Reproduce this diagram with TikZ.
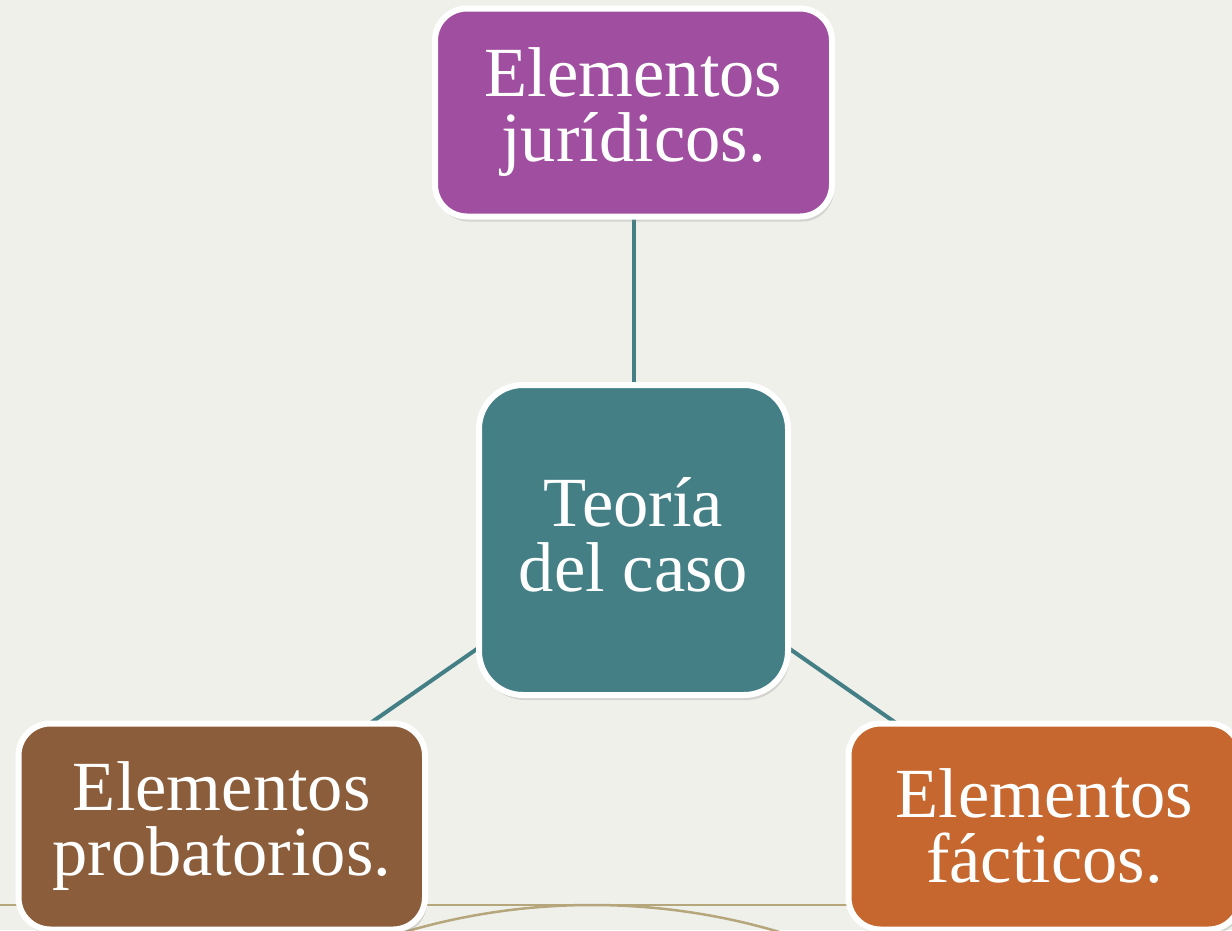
\documentclass[tikz,border=0pt]{standalone}
\usepackage{fontspec}
\setmainfont{Liberation Serif}
\usetikzlibrary{shadows}
\definecolor{bgc}{HTML}{F0F0EB}
\definecolor{tealc}{HTML}{437F85}
\definecolor{purplec}{HTML}{A04FA0}
\definecolor{brownc}{HTML}{8B5D3B}
\definecolor{orangec}{HTML}{C5672E}
\definecolor{tanc}{HTML}{B5A67C}
\pgfdeclarelayer{deco}
\pgfdeclarelayer{edges}
\pgfsetlayers{deco,edges,main}
\begin{document}
\begin{tikzpicture}[x=1pt,y=-1pt,
  box/.style={draw=white, line width=6pt, text=white, align=center,
    font=\fontsize{70.5}{65}\selectfont, inner sep=0pt,
    drop shadow={opacity=0.25, shadow xshift=2pt, shadow yshift=-5pt}},
  link/.style={draw=tealc, line width=4pt},
  decoline/.style={draw=tanc, line width=2.5pt}]
\useasboundingbox (0,0) rectangle (1232,930);
\clip (0,0) rectangle (1232,930);
\begin{pgfonlayer}{deco}
  \fill[bgc] (0,0) rectangle (1232,930);
  \draw[decoline] (0,905) -- (1232,905);
  \draw[decoline] (592,1565) circle (660);
\end{pgfonlayer}
\node[box, fill=purplec, minimum width=397pt, minimum height=208pt, rounded corners=32pt] (top) at (633.5,112.5) {Elementos\\jurídicos.};
\node[box, fill=tealc, minimum width=309pt, minimum height=310pt, rounded corners=44pt] (center) at (633.5,540) {Teoría\\del caso\vphantom{,}};
\node[box, fill=brownc, minimum width=406.5pt, minimum height=206pt, rounded corners=32pt] (left) at (221.75,826.5) {Elementos\\probatorios.};
\node[box, fill=orangec, minimum width=392pt, minimum height=206pt, rounded corners=32pt] (right) at (1044.5,826.5) {Elementos\\fácticos.};
\begin{pgfonlayer}{edges}
  \draw[link] (center.center) -- (top.center);
  \draw[link] (center.center) -- (left.center);
  \draw[link] (center.center) -- (right.center);
\end{pgfonlayer}
\end{tikzpicture}
\end{document}
